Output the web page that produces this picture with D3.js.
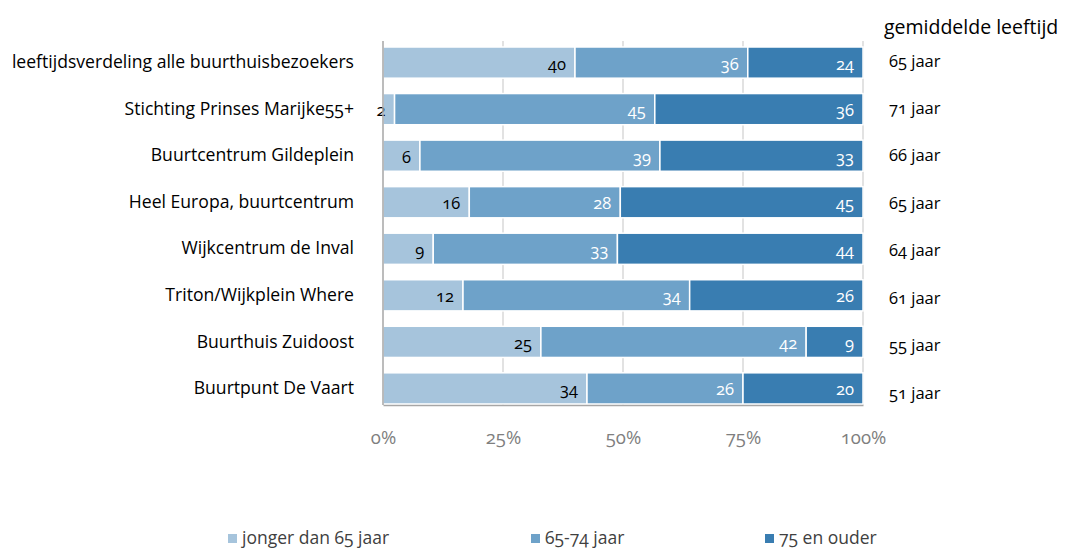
<!DOCTYPE html>
<html>
<head>
<meta charset="utf-8">
<script src="https://cdn.jsdelivr.net/npm/d3@7"></script>
<style>
  body { margin: 0; background: #fff; }
  svg text { font-family: "Open Sans", Lato, sans-serif; font-feature-settings: "onum"; }
</style>
</head>
<body>
<svg id="chart" width="1067" height="549"></svg>
<script>
const categories = [
	"leeftijdsverdeling alle buurthuisbezoekers",
	"Stichting Prinses Marijke55+",
	"Buurtcentrum Gildeplein",
	"Heel Europa, buurtcentrum",
	"Wijkcentrum de Inval",
	"Triton/Wijkplein Where ",
	"Buurthuis Zuidoost",
	"Buurtpunt De Vaart"
];
const seriesNames = ["jonger dan 65 jaar", "65-74 jaar", "75 en ouder"];
const jonger = [40, 2, 6, 16, 9, 12, 25, 34];
const mid = [36, 45, 39, 28, 33, 34, 42, 26];
const ouder = [24, 36, 33, 45, 44, 26, 9, 20];
const avgAge = ["65 jaar", "71 jaar", "66 jaar", "65 jaar", "64 jaar", "61 jaar", "55 jaar", "51 jaar"];
const tickValues = [0, 0.25, 0.5, 0.75, 1];
const colors = ["#a6c4dc", "#6ea2c9", "#397db1"];

const svg = d3.select("#chart"),
	margin = {top: 41, right: 204, bottom: 144, left: 383},
	width = 1067,
	height = 549;

const rows = categories.map((c, i) => ({ name: c, values: [jonger[i], mid[i], ouder[i]], age: avgAge[i] }));
rows.forEach(r => {
	const total = d3.sum(r.values);
	let acc = 0;
	r.segs = r.values.map((v, k) => {
		const s = { k, v, x0: acc / total, x1: (acc + v) / total };
		acc += v;
		return s;
	});
});

const x = d3.scaleLinear()
	.domain([0, 1])
	.range([margin.left, width - margin.right]);

const y = d3.scaleBand()
	.domain(categories)
	.range([47, height - margin.bottom - 1])
	.paddingInner(0.33)
	.paddingOuter(0);

// gridlines
svg.append("g")
	.selectAll("line")
	.data(tickValues.slice(1))
	.join("line")
	.attr("x1", d => x(d)).attr("x2", d => x(d))
	.attr("y1", margin.top).attr("y2", height - margin.bottom)
	.attr("stroke", "#d9d9d9")
	.attr("stroke-width", 1.5);

// bars
const rowG = svg.append("g")
	.selectAll("g")
	.data(rows)
	.join("g")
	.attr("transform", d => `translate(0,${y(d.name)})`);

rowG.selectAll("rect")
	.data(d => d.segs)
	.join("rect")
	.attr("x", d => x(d.x0))
	.attr("width", d => x(d.x1) - x(d.x0))
	.attr("height", y.bandwidth())
	.attr("fill", d => colors[d.k])
	.attr("stroke", "#fff")
	.attr("stroke-width", 1.5);

rowG.selectAll("text")
	.data(d => d.segs)
	.join("text")
	.attr("x", d => x(d.x1) - 9)
	.attr("y", y.bandwidth() / 2 + 7)
	.attr("text-anchor", "end")
	.attr("font-size", 16.5)
	.attr("fill", d => d.k === 0 ? "#000" : "#fff")
	.text(d => d.v);

// axes
const xAxis = g => g
	.attr("transform", `translate(0,${height - margin.bottom})`)
	.call(d3.axisBottom(x).tickValues(tickValues).tickFormat(d3.format(".0%")).tickSize(0).tickPadding(26))
	.call(g => g.select(".domain").attr("stroke", "#a6a6a6").attr("stroke-width", 1.5))
	.call(g => g.selectAll(".tick text").attr("font-size", 18.5).attr("fill", "#7f7f7f")
		.attr("font-family", "\"Open Sans\", Lato, sans-serif"));

const yAxis = g => g
	.attr("transform", `translate(${margin.left},0)`)
	.call(d3.axisLeft(y).tickSize(0).tickPadding(29))
	.call(g => g.select(".domain").attr("stroke", "#a6a6a6").attr("stroke-width", 1.5)
		.attr("d", `M0,${margin.top}V${height - margin.bottom}`))
	.call(g => g.selectAll(".tick text").attr("font-size", 17.6).attr("fill", "#000")
		.attr("font-family", "\"Open Sans\", Lato, sans-serif"));

svg.append("g").call(xAxis);
svg.append("g").call(yAxis);

// average age column
svg.append("text")
	.attr("x", 884).attr("y", 34)
	.attr("font-size", 19.5)
	.attr("fill", "#000")
	.text("gemiddelde leeftijd");

svg.append("g")
	.selectAll("text")
	.data(rows)
	.join("text")
	.attr("x", 889)
	.attr("y", (d, i) => y(d.name) + y.bandwidth() / 2 + 4 + i * 0.9)
	.attr("font-size", 16.5)
	.attr("fill", "#000")
	.text(d => d.age);

// legend
const legendX = [228, 531, 765];
const legend = svg.append("g")
	.selectAll("g")
	.data(seriesNames)
	.join("g")
	.attr("transform", (d, i) => `translate(${legendX[i]},538)`);

legend.append("rect")
	.attr("width", 9).attr("height", 9)
	.attr("y", -4)
	.attr("fill", (d, i) => colors[i]);

legend.append("text")
	.attr("x", 14)
	.attr("y", 6)
	.attr("font-size", 17.5)
	.attr("fill", "#404040")
	.text(d => d);
</script>
</body>
</html>
